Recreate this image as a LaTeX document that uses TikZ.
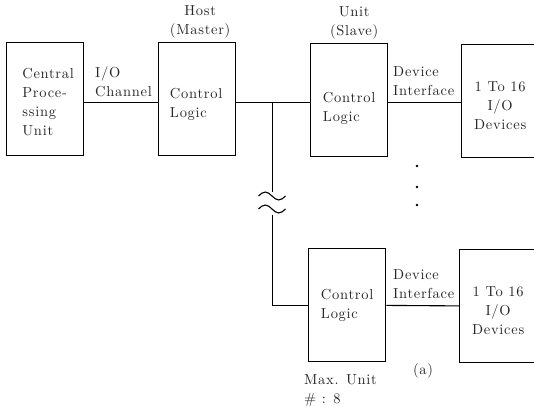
\documentclass[tikz,border=0pt]{standalone}
\usepackage{fontspec}
\setmainfont{lmroman10-regular.otf}[LetterSpace=5]
\usetikzlibrary{positioning}
\begin{document}
\begin{tikzpicture}[x=1pt, y=-1pt,
        every node/.style={font=\fontsize{14.5}{19}\selectfont, inner sep=0pt, text=black!85},
        caja/.style={draw, line width=1.3pt, anchor=north west, minimum width=77pt, minimum height=113pt},
        texto/.style={align=left},
        centrado/.style={align=center},
        linea/.style={line width=1.1pt}
    ]
    \useasboundingbox (0,0) rectangle (534,406);
    \clip (0,0) rectangle (534,406);

    % bloques
    \node[caja] (cpu) at (6,42) {};
    \node[caja] (host) at (158,42) {};
    \node[caja] (unidad) at (310,43) {};
    \node[caja] (disp1) at (461,44) {};
    \node[caja] (ctl2) at (308,248) {};
    \node[caja] (disp2) at (459,249) {};

    % textos de los bloques
    \node[texto] (tcpu) at ([xshift=3pt, yshift=-2.5pt]cpu.center) {Central\\Proce-\\ssing\\Unit};
    \node[texto] (thost) at ([xshift=-1pt, yshift=-5pt]host.center) {Control\\Logic};
    \node[texto] (tunidad) at ([yshift=-8pt]unidad.center) {Control\\Logic};
    \node[centrado] (tdisp1) at ([yshift=-5pt]disp1.center) {1 To 16\\I/O\\Devices};
    \node[texto] (tctl2) at ([yshift=0pt]ctl2.center) {Control\\Logic};
    \node[centrado] (tdisp2) at ([yshift=-4.5pt]disp2.center) {1 To 16\\I/O\\Devices};

    % etiquetas
    \node[centrado, above=4pt of host, xshift=3pt] (maestro) {Host\\(Master)};
    \node[centrado, above=4pt of unidad, xshift=5pt] (esclavo) {Unit\\(Slave)};
    \node[texto, anchor=south west] (canal) at (95,97.5) {I/O\\Channel};
    \node[texto, anchor=south west] (interfaz1) at (393,96) {Device\\Interface};
    \node[texto, anchor=south west] (interfaz2) at (393,298.5) {Device\\Interface};
    \node (parte) at (423,371) {(a)};
    \node[texto, anchor=north west] (maximo) at (304,374) {Max. Unit\\\# : 8};

    % bus
    \coordinate (bus) at (0,102.5);
    \coordinate (rama) at (272.5,102.5);
    \coordinate (corte1) at (272.5,192);
    \coordinate (corte2) at (272.5,215);

    \draw[linea] (cpu.east |- bus) -- (host.west |- bus);
    \draw[linea] (host.east |- rama) -- (unidad.west |- rama);
    \draw[linea] (unidad.east |- rama) -- (disp1.west |- rama);
    \draw[linea] (rama) -- (corte1);
    \draw[linea] (corte2) |- (ctl2.west);
    \draw[linea] (ctl2) -- (disp2);

    % corte del bus
    \draw[linea] (258.5,196) sin (265.25,192) cos (272,196) sin (278.75,200) cos (285.5,196);
    \draw[linea] (258.5,209) sin (265.25,205) cos (272,209) sin (278.75,213) cos (285.5,209);

    % puntos
    \foreach \y in {166,187,205}
        \fill (417,\y) circle (1.4pt);
\end{tikzpicture}
\end{document}
